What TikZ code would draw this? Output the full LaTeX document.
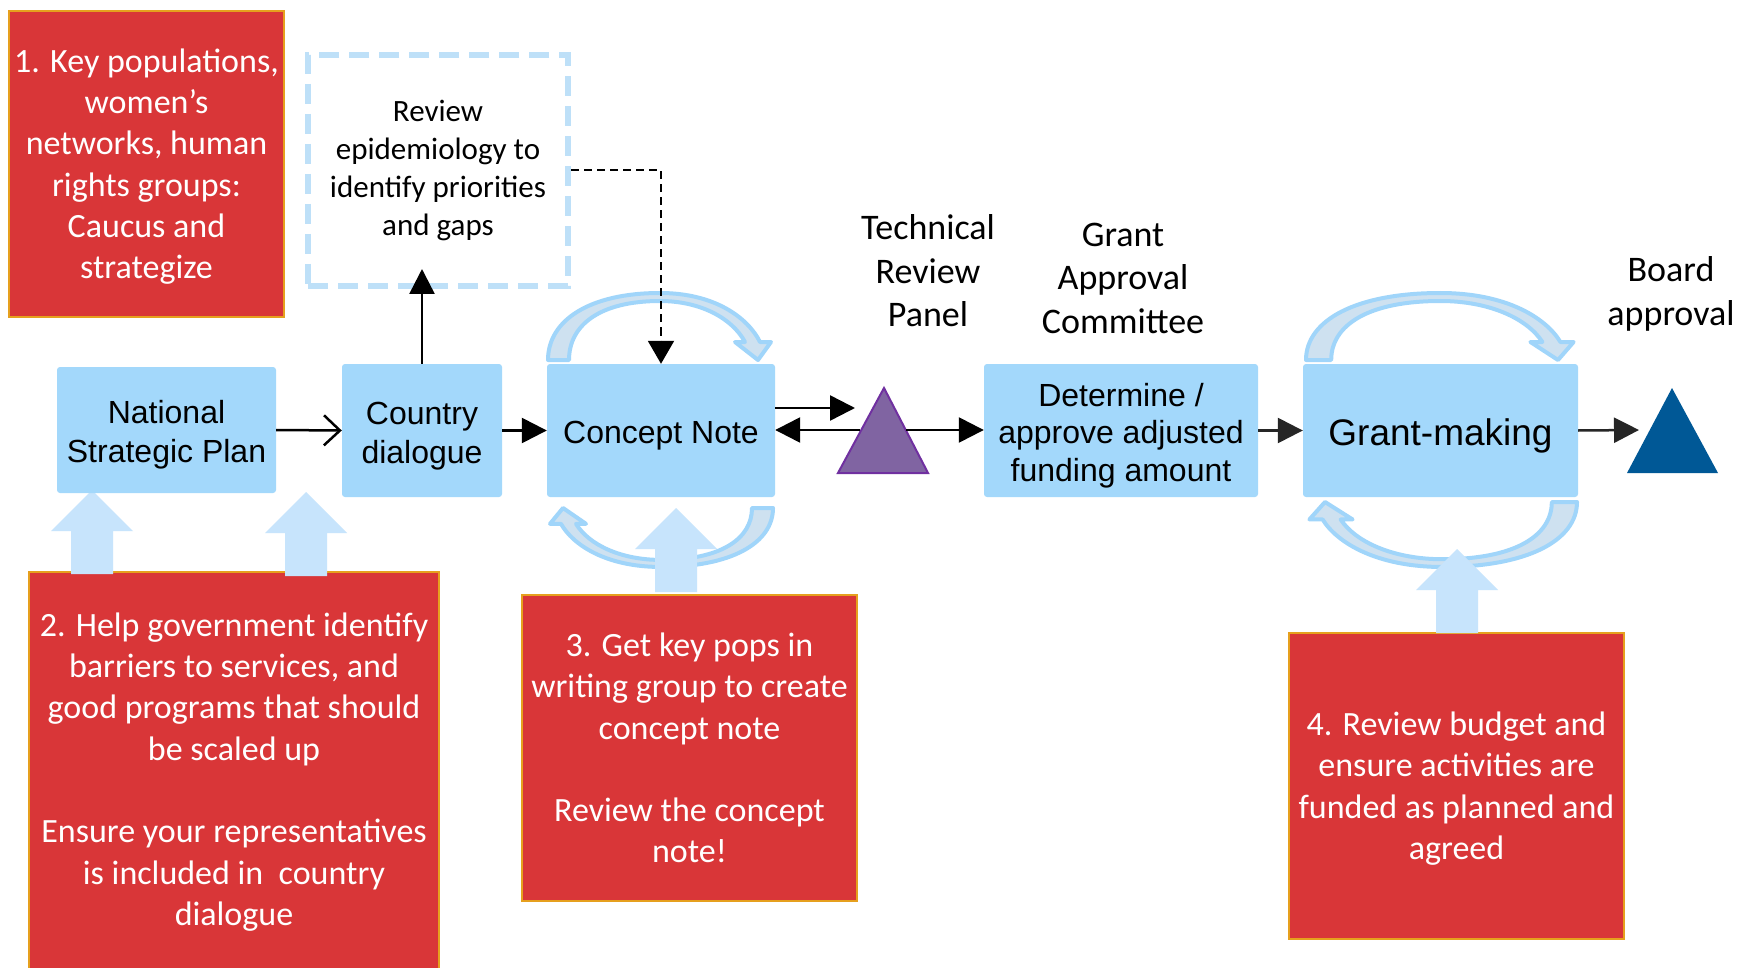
\documentclass[tikz,border=0pt]{standalone}
\usepackage{fontspec}
\newfontfamily\calfont{Carlito}
\newfontfamily\arifont{Liberation Sans}
\usetikzlibrary{arrows.meta}
\definecolor{boxblue}{RGB}{163,216,251}
\definecolor{arrblue}{RGB}{199,228,252}
\definecolor{loopfill}{RGB}{206,225,240}
\definecolor{loopline}{RGB}{160,213,250}
\definecolor{boxred}{RGB}{217,54,56}
\definecolor{boxorange}{RGB}{230,160,30}
\definecolor{dashblue}{RGB}{190,224,248}
\definecolor{trppurple}{RGB}{128,100,162}
\definecolor{trpborder}{RGB}{112,48,160}
\definecolor{boardblue}{RGB}{0,88,150}
\definecolor{darkarr}{RGB}{38,38,38}
\newcommand\bstrut{\rule{0pt}{1.04em}}
\newcommand\rstrut{\rule{0pt}{0.85em}}
\tikzset{
  bluebox/.style={fill=boxblue, rounded corners=3pt, inner sep=0pt, align=center,
    font=\arifont\fontsize{32}{39}\selectfont},
  redbox/.style={fill=boxred, draw=boxorange, line width=2pt, inner sep=0pt, align=center,
    text=white, font=\calfont\fontsize{34}{41.3}\selectfont},
  lbl/.style={align=center, inner sep=0pt, font=\calfont\fontsize{36}{43.5}\selectfont},
  arr/.style={line width=2.5pt, -{Triangle[length=25pt,width=25pt]}},
  darr/.style={arr, draw=darkarr, color=darkarr},
  loopar/.pic={
    \filldraw[fill=loopfill, draw=loopline, line width=4pt, line join=round]
      (0,0) .. controls (0,-40) and (42,-67) .. (112,-67)
      .. controls (167,-67) and (200,-42) .. (212,-18)
      -- (223,-18) -- (210,0) -- (187,-18) -- (197,-18)
      .. controls (184,-42) and (152,-59) .. (112,-59)
      .. controls (52,-59) and (21,-35) .. (21,0) -- cycle;
  },
  uparr/.pic={
    \fill[arrblue] (0,0) -- (41,41) -- (21,41) -- (21,84) -- (-21,84) -- (-21,41) -- (-41,41) -- cycle;
  }
}
\begin{document}
\begin{tikzpicture}[x=1pt,y=-1pt]
\useasboundingbox (0,0) rectangle (1740,968);
\fill[white] (0,0) rectangle (1740,968);

% red boxes
\node[redbox, minimum width=275pt, minimum height=306pt] (r1) at (146.5,164)
  {\rstrut 1. Key populations,\\women’s\\networks, human\\rights groups:\\Caucus and\\strategize};
\node[redbox, minimum width=410pt, minimum height=400pt] (r2) at (234,772)
  {2. Help government identify\\barriers to services, and\\good programs that should\\be scaled up\\\mbox{}\\Ensure your representatives\\is included in~ country\\dialogue};
\node[redbox, minimum width=335pt, minimum height=306pt] (r3) at (689.5,748)
  {3. Get key pops in\\writing group to create\\concept note\\\mbox{}\\Review the concept\\note!};
\node[redbox, minimum width=335pt, minimum height=306pt] (r4) at (1456.5,786)
  {\rstrut 4. Review budget and\\ensure activities are\\funded as planned and\\agreed};

% dashed box
\node[draw=dashblue, line width=6pt, dash pattern=on 20pt off 10pt, minimum width=260pt,
  minimum height=231pt, inner sep=0pt, align=center,
  font=\calfont\fontsize{31}{38}\selectfont] (epi) at (438,170.5)
  {Review\\epidemiology to\\identify priorities\\and gaps};

% loop arrows
\pic at (548,360) {loopar};
\pic[xscale=-1, yscale=-0.88] at (773,508) {loopar};
\pic[xscale=1.2] at (1306,360) {loopar};
\pic[xscale=-1.2, yscale=-0.97] at (1577,502) {loopar};

% block up arrows
\pic at (92,490) {uparr};
\pic at (306,492) {uparr};
\pic at (676,508) {uparr};
\pic at (1457,549) {uparr};

% blue boxes
\node[bluebox, minimum width=219pt, minimum height=126pt] (nsp) at (166.5,430) {\bstrut National\\Strategic Plan};
\node[bluebox, minimum width=160pt, minimum height=133pt] (cd) at (422,430.5) {\bstrut Country\\dialogue};
\node[bluebox, minimum width=228pt, minimum height=133pt] (cn) at (661,430.5) {\bstrut Concept Note};
\node[bluebox, minimum width=274pt, minimum height=133pt, font=\arifont\fontsize{32}{37.5}\selectfont] (det) at (1121,430.5)
  {\bstrut Determine /\\approve adjusted\\funding amount};
\node[bluebox, minimum width=275pt, minimum height=133pt, font=\arifont\fontsize{37}{44}\selectfont] (gm) at (1440.5,430.5) {\bstrut Grant-making};

% triangles
\filldraw[fill=trppurple, draw=trpborder, line width=2pt] (884,388) -- (928,473) -- (838,473) -- cycle;
\fill[boardblue] (1672,388) -- (1718,473) -- (1627,473) -- cycle;

% labels
\node[lbl] (trp) at (928,271) {Technical\\Review\\Panel};
\node[lbl] (gac) at (1123,278) {Grant\\Approval\\Committee};
\node[lbl] (brd) at (1671,294) {Board\\approval};

% connectors
\coordinate (epiin) at (422,269);
\coordinate (trpin) at (855,408);
\coordinate (trpout) at (860,430);
\coordinate (trpright) at (906,430);
\coordinate (boardin) at (1639,430);

\draw[line width=2.5pt, -{Straight Barb[length=16pt,width=30pt,line width=2.5pt]}] (nsp.east) -- (cd.west);
\draw[arr] (cd.east) -- (cn.west);
\draw[arr] (cd.north) -- (epiin);
\draw[line width=2pt, dash pattern=on 8pt off 5pt, -{Triangle[length=23pt,width=26pt]}] (epi.east) -| (cn.north);
\draw[arr] (cn.east |- trpin) -- (trpin);
\draw[arr] (trpout) -- (cn.east |- trpout);
\draw[arr] (trpright) -- (det.west |- trpright);
\draw[darr] (det.east) -- (gm.west);
\draw[darr] (gm.east) -- (boardin);
\end{tikzpicture}
\end{document}
